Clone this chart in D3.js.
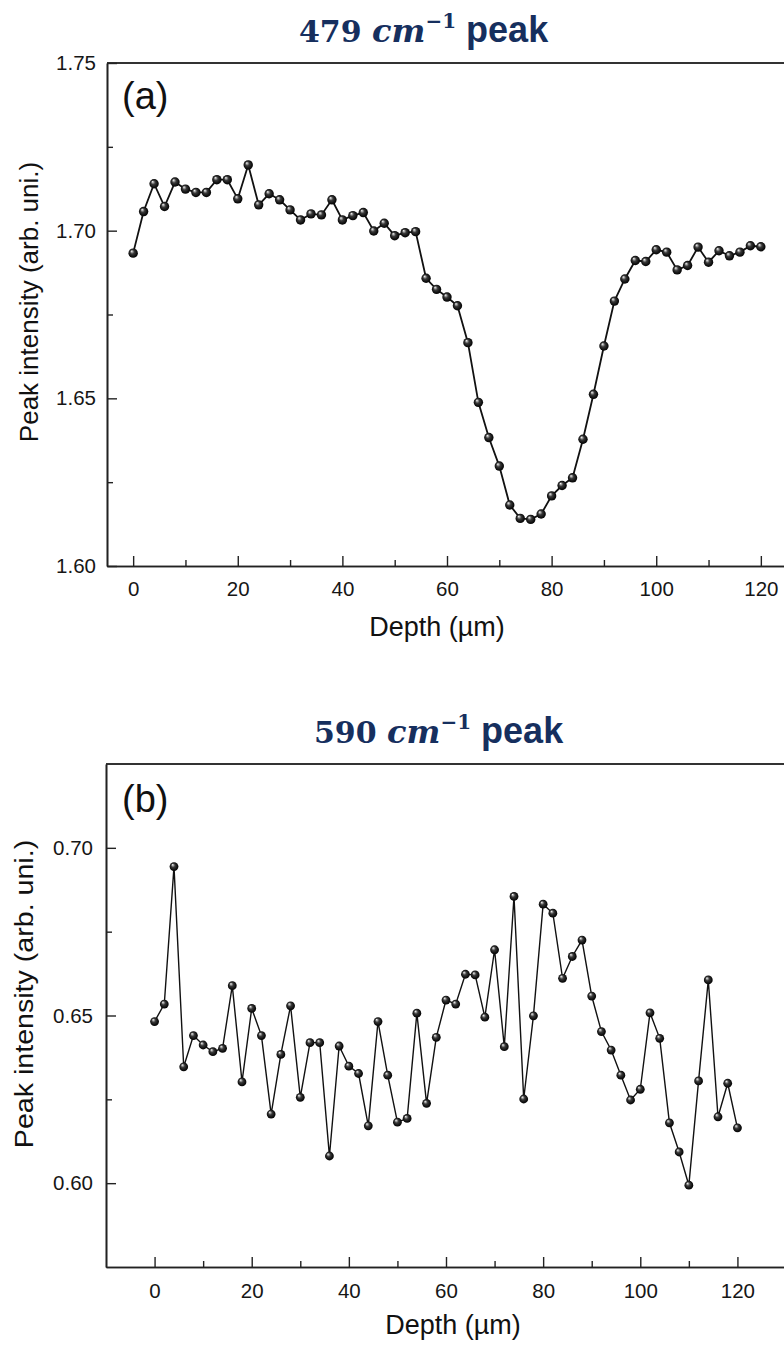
<!DOCTYPE html>
<html>
<head>
<meta charset="utf-8">
<script src="https://cdn.jsdelivr.net/npm/d3@7"></script>
<style>
	body { margin: 0; background: #fff; }
	svg { display: block; }
	.tick text { font-family: "Liberation Sans", Arial, sans-serif; font-size: 20.5px; fill: #161616; }
	.domain { stroke: #222; stroke-width: 1.6px; }
	.tick line { stroke: #222; stroke-width: 1.4px; }
</style>
</head>
<body>
<div id="chart"></div>
<script>
///////////////////////////////////////////////////////////////////////////
//////////////////////////// data /////////////////////////////////////////
///////////////////////////////////////////////////////////////////////////

const depth = [
	0, 2, 4, 6, 8, 10, 12, 14, 16, 18, 20, 22, 24, 26, 28, 30, 32, 34, 36, 38,
	40, 42, 44, 46, 48, 50, 52, 54, 56, 58, 60, 62, 64, 66, 68, 70, 72, 74, 76,
	78, 80, 82, 84, 86, 88, 90, 92, 94, 96, 98, 100, 102, 104, 106, 108, 110,
	112, 114, 116, 118, 120
];

const peak479 = [
	1.6933, 1.7057, 1.714, 1.7072, 1.7145, 1.7124, 1.7114, 1.7114, 1.7152, 1.7152,
	1.7095, 1.7196, 1.7077, 1.711, 1.7092, 1.7062, 1.7032, 1.705, 1.7047, 1.7092,
	1.7032, 1.7045, 1.7054, 1.6999, 1.7022, 1.6985, 1.6994, 1.6997, 1.6858, 1.6825,
	1.6802, 1.6776, 1.6666, 1.6488, 1.6383, 1.6298, 1.6182, 1.6142, 1.6139, 1.6155,
	1.6209, 1.624, 1.6263, 1.6378, 1.6512, 1.6656, 1.679, 1.6856, 1.6911, 1.6908,
	1.6943, 1.6936, 1.6883, 1.6896, 1.6951, 1.6906, 1.694, 1.6925, 1.6936, 1.6955,
	1.6952
];

const peak590 = [
	0.6482, 0.6534, 0.6944, 0.6347, 0.644, 0.6412, 0.6392, 0.6402, 0.6589, 0.6302,
	0.6521, 0.644, 0.6206, 0.6384, 0.6529, 0.6256, 0.6419, 0.6419, 0.6081, 0.6409,
	0.6349, 0.6327, 0.6171, 0.6482, 0.6322, 0.6182, 0.6193, 0.6507, 0.6238, 0.6435,
	0.6546, 0.6534, 0.6623, 0.6621, 0.6495, 0.6696, 0.6407, 0.6855, 0.6251, 0.6499,
	0.6832, 0.6805, 0.6611, 0.6676, 0.6725, 0.6558, 0.6452, 0.6397, 0.6322, 0.6248,
	0.628, 0.6508, 0.6432, 0.618, 0.6093, 0.5994, 0.6305, 0.6606, 0.6198, 0.6298,
	0.6165
];

const xTicks = [0, 20, 40, 60, 80, 100, 120];
const xMinorTicks = [10, 30, 50, 70, 90, 110];

const yTicks479 = [1.6, 1.65, 1.7, 1.75];
const yMinorTicks479 = [1.625, 1.675, 1.725];

const yTicks590 = [0.6, 0.65, 0.7];
const yMinorTicks590 = [0.625, 0.675];

const titleNumbers = ["479", "590"];
const panelLabels = ["(a)", "(b)"];
const xTitle = "Depth (µm)";
const yTitle = "Peak intensity (arb. uni.)";

///////////////////////////////////////////////////////////////////////////
//////////////////////////// drawing function /////////////////////////////
///////////////////////////////////////////////////////////////////////////

const createChart = () => {
	const wrapper = d3
		.select("#chart")
		.append("svg")
		.attr("width", 784)
		.attr("height", 1345);

	//////////////////////////// sphere gradient //////////////////////////////

	const grad = wrapper
		.append("defs")
		.append("radialGradient")
		.attr("id", "ball")
		.attr("cx", "50%")
		.attr("cy", "50%")
		.attr("r", "55%")
		.attr("fx", "33%")
		.attr("fy", "28%");
	grad.append("stop").attr("offset", "0%").attr("stop-color", "#ffffff");
	grad.append("stop").attr("offset", "14%").attr("stop-color", "#b5b5b5");
	grad.append("stop").attr("offset", "40%").attr("stop-color", "#3a3a3a");
	grad.append("stop").attr("offset", "75%").attr("stop-color", "#111");
	grad.append("stop").attr("offset", "100%").attr("stop-color", "#000");

	//////////////////////////// panels ///////////////////////////////////////

	const panels = [
		{
			number: titleNumbers[0],
			label: panelLabels[0],
			values: peak479,
			xDomain: [-5, 125],
			yDomain: [1.6, 1.75],
			yTicks: yTicks479,
			yMinor: yMinorTicks479,
			left: 107,
			right: 787,
			top: 63,
			bottom: 566,
			titleX: 299,
			titleY: 42,
			labelY: 109,
			yPad: 11,
			xPad: 15,
			xTitleX: 437,
			xTitleY: 636,
			yTitleX: 38,
			yTitleY: 302,
			stretch: 1,
			radius: 4.7,
			lineWidth: 1.8
		},
		{
			number: titleNumbers[1],
			label: panelLabels[1],
			values: peak590,
			xDomain: [-10, 130],
			yDomain: [0.575, 0.725],
			yTicks: yTicks590,
			yMinor: yMinorTicks590,
			left: 106,
			right: 786,
			top: 764,
			bottom: 1267,
			titleX: 314,
			titleY: 743,
			labelY: 812,
			yPad: 13,
			xPad: 16,
			xTitleX: 453,
			xTitleY: 1334,
			yTitleX: 33,
			yTitleY: 994,
			stretch: 1.1,
			radius: 4.4,
			lineWidth: 1.4
		}
	];

	const drawPanel = (p) => {
		const bounds = wrapper.append("g");

		const xScale = d3.scaleLinear().domain(p.xDomain).range([p.left, p.right]);
		const yScale = d3.scaleLinear().domain(p.yDomain).range([p.bottom, p.top]);

		// top frame line
		bounds
			.append("line")
			.attr("x1", p.left)
			.attr("x2", p.right)
			.attr("y1", p.top)
			.attr("y2", p.top)
			.attr("stroke", "#333")
			.attr("stroke-width", 2);

		//////////////////////////// axes /////////////////////////////////////

		bounds
			.append("g")
			.attr("transform", `translate(${p.left},0)`)
			.call(
				d3.axisLeft(yScale).tickValues(p.yMinor).tickSizeInner(-6).tickSizeOuter(0).tickFormat("")
			);

		bounds
			.append("g")
			.attr("transform", `translate(${p.left},0)`)
			.call(
				d3
					.axisLeft(yScale)
					.tickValues(p.yTicks)
					.tickSizeInner(-10)
					.tickSizeOuter(0)
					.tickPadding(p.yPad)
					.tickFormat(d3.format(".2f"))
			);

		bounds
			.append("g")
			.attr("transform", `translate(0,${p.bottom})`)
			.call(
				d3.axisBottom(xScale).tickValues(xMinorTicks).tickSizeInner(-6).tickSizeOuter(0).tickFormat("")
			);

		bounds
			.append("g")
			.attr("transform", `translate(0,${p.bottom})`)
			.call(
				d3
					.axisBottom(xScale)
					.tickValues(xTicks)
					.tickSizeInner(-10)
					.tickSizeOuter(0)
					.tickPadding(p.xPad)
			);

		//////////////////////////// plot /////////////////////////////////////

		const points = depth.map((d, i) => [d, p.values[i]]);

		const lineGenerator = d3
			.line()
			.x((d) => xScale(d[0]))
			.y((d) => yScale(d[1]));

		bounds
			.append("path")
			.datum(points)
			.attr("d", lineGenerator)
			.attr("fill", "none")
			.attr("stroke", "#111")
			.attr("stroke-width", p.lineWidth);

		bounds
			.selectAll(".dot")
			.data(points)
			.enter()
			.append("circle")
			.attr("class", "dot")
			.attr("cx", (d) => xScale(d[0]))
			.attr("cy", (d) => yScale(d[1]))
			.attr("r", p.radius)
			.attr("fill", "url(#ball)");

		//////////////////////////// texts ////////////////////////////////////

		const title = bounds
			.append("text")
			.attr("x", p.titleX)
			.attr("y", p.titleY)
			.attr("fill", "#162f5e")
			.attr("font-weight", "bold");
		title
			.append("tspan")
			.attr("font-family", "'DejaVu Serif', serif")
			.attr("font-size", 30)
			.text(p.number + " ");
		title
			.append("tspan")
			.attr("font-family", "'DejaVu Serif', serif")
			.attr("font-style", "italic")
			.attr("font-size", 32)
			.text("cm");
		title
			.append("tspan")
			.attr("font-family", "'DejaVu Serif', serif")
			.attr("font-size", 20)
			.attr("dy", -14)
			.text("−1");
		title
			.append("tspan")
			.attr("font-family", "'Liberation Sans', Arial, sans-serif")
			.attr("font-size", 36)
			.attr("dy", 14)
			.text(" peak");

		bounds
			.append("text")
			.attr("x", 122)
			.attr("y", p.labelY)
			.attr("font-family", "'Liberation Sans', Arial, sans-serif")
			.attr("font-size", 38)
			.attr("fill", "#111")
			.text(p.label);

		bounds
			.append("text")
			.attr("x", p.xTitleX)
			.attr("y", p.xTitleY)
			.attr("text-anchor", "middle")
			.attr("font-family", "'Liberation Sans', Arial, sans-serif")
			.attr("font-size", 27)
			.attr("fill", "#111")
			.text(xTitle);

		bounds
			.append("text")
			.attr(
				"transform",
				`translate(${p.yTitleX},${p.yTitleY}) rotate(-90) scale(${p.stretch},1)`
			)
			.attr("text-anchor", "middle")
			.attr("font-family", "'Liberation Sans', Arial, sans-serif")
			.attr("font-size", 26)
			.attr("fill", "#111")
			.text(yTitle);
	};

	panels.forEach(drawPanel);
};

createChart();
</script>
</body>
</html>
